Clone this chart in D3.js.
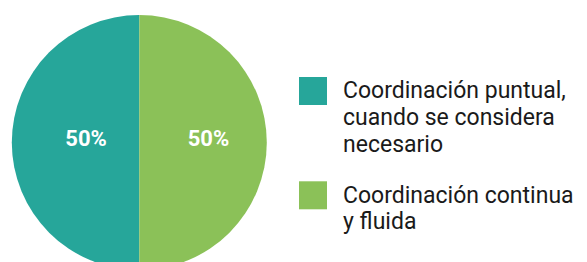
<!DOCTYPE html>
<html>
<head>
<meta charset="utf-8">
<script src="https://cdn.jsdelivr.net/npm/d3@7"></script>
<style>
  body { margin: 0; background: #fff; }
  svg { display: block; font-family: Roboto, "Noto Sans", sans-serif; }
</style>
</head>
<body>
<div id="chart"></div>
<script>
/* DATA */
const categories = ["puntual", "continua"];
const values = [50, 50];
const legendLines = [
  ["Coordinación puntual,", "cuando se considera", "necesario"],
  ["Coordinación continua", "y fluida"]
];
const colors = ["#26a69a", "#8bc158"];

/* LAYOUT */
const width = 587,
  height = 262,
  cx = 139.3,
  cy = 142.5,
  radius = 127.5;

const svg = d3.select("#chart")
  .append("svg")
  .attr("width", width)
  .attr("height", height);

const color = d3.scaleOrdinal().domain(categories).range(colors);

// start at the bottom so the first slice fills the left half
const pie = d3.pie()
  .sort(null)
  .startAngle(Math.PI)
  .endAngle(3 * Math.PI)
  .value(d => d.value);
const arcs = pie(categories.map((c, i) => ({ key: c, value: values[i] })));

const arc = d3.arc().innerRadius(0).outerRadius(radius);

const g = svg.append("g").attr("transform", `translate(${cx},${cy})`);

g.selectAll("path.slice")
  .data(arcs)
  .join("path")
  .attr("class", "slice")
  .attr("d", arc)
  .attr("fill", d => color(d.data.key));

// labels are nudged a little to the right of the slice middle
g.selectAll("text.pct")
  .data(arcs)
  .join("text")
  .attr("class", "pct")
  .attr("x", d => Math.sin((d.startAngle + d.endAngle) / 2) * radius * 0.48 + 8)
  .attr("y", -4.2)
  .attr("dy", "0.35em")
  .attr("text-anchor", "middle")
  .attr("fill", "#fff")
  .attr("font-size", 22)
  .attr("font-weight", "bold")
  .text(d => d.data.value + "%");

// legend
const legendY = [77, 181.3];
const legend = svg.selectAll("g.legend")
  .data(categories)
  .join("g")
  .attr("class", "legend")
  .attr("transform", (d, i) => `translate(299,${legendY[i]})`);

legend.append("rect")
  .attr("width", 28)
  .attr("height", 28)
  .attr("fill", d => color(d));

legend.append("text")
  .attr("x", 44)
  .attr("y", 21.3)
  .attr("font-size", 23)
  .attr("fill", "#1a1a1a")
  .selectAll("tspan")
  .data((d, i) => legendLines[i])
  .join("tspan")
  .attr("x", 44)
  .attr("dy", (d, i) => i === 0 ? 0 : 26.7)
  .text(d => d);
</script>
</body>
</html>
